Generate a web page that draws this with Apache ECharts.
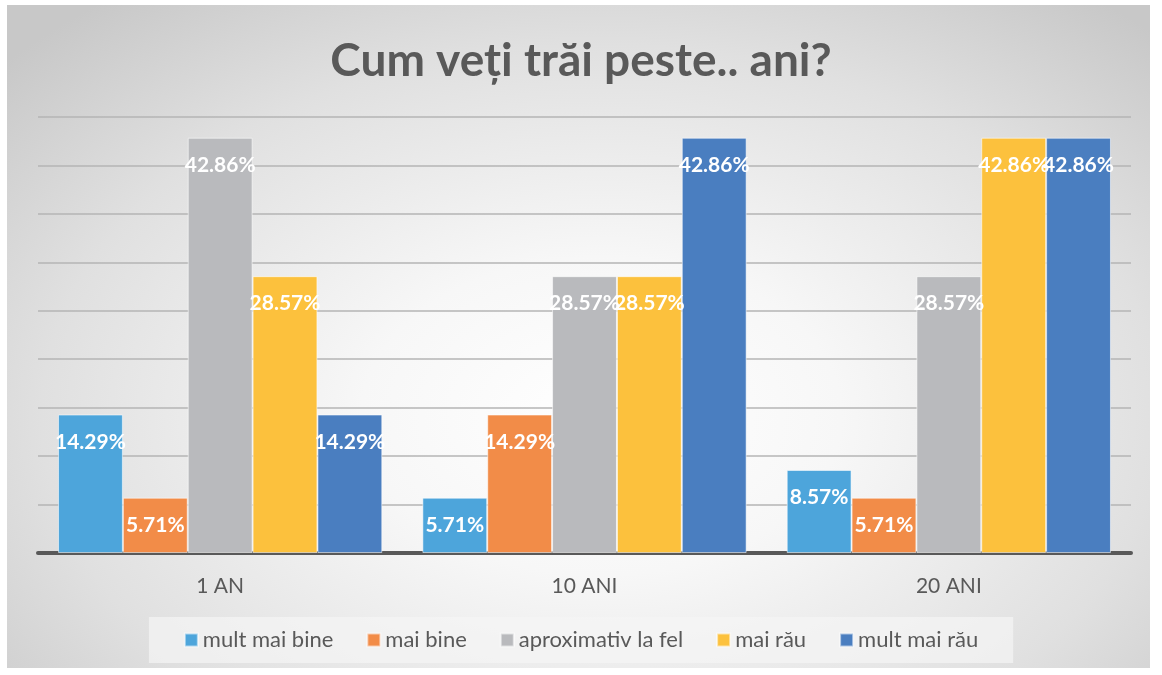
<!DOCTYPE html>
<html>
<head>
<meta charset="utf-8">
<script src="https://cdn.jsdelivr.net/npm/echarts@6/dist/echarts.min.js"></script>
<style>
  html, body { margin: 0; padding: 0; background: #fff; }
  #frame {
    position: absolute; left: 7px; top: 5px; width: 1143px; height: 663px;
    background: radial-gradient(ellipse 70% 80% at 52% 62%, #ffffff 0%, #f7f7f7 30%, #e0e0e0 70%, #c8c8c8 100%);
  }
  #main { position: absolute; left: 0; top: 0; width: 1162px; height: 675px; }
</style>
</head>
<body>
<div id="frame"></div>
<div id="main"></div>
<script>
// categories and series values (%)
var categories = ['1 AN', '10 ANI', '20 ANI']
var multMaiBine = [14.29, 5.71, 8.57]
var maiBine = [5.71, 14.29, 5.71]
var aproximativ = [42.86, 28.57, 28.57]
var maiRau = [28.57, 28.57, 42.86]
var multMaiRau = [14.29, 42.86, 42.86]

var font = 'Lato, "Open Sans", sans-serif'

function bar(name, data, color) {
  return {
    name: name,
    type: 'bar',
    data: data,
    barGap: '0%',
    barCategoryGap: '11%',
    itemStyle: {
      color: color,
      borderColor: 'rgba(255,255,255,0.55)',
      borderWidth: 1
    },
    label: {
      show: true,
      position: 'insideTop',
      distance: 17,
      color: '#fff',
      fontFamily: font,
      fontWeight: 'bold',
      fontSize: 21,
      formatter: function (p) { return p.value.toFixed(2) + '%' }
    }
  }
}

var chart = echarts.init(document.getElementById('main'))
chart.setOption({
  backgroundColor: 'transparent',
  animation: false,
  title: {
    text: 'Cum veți trăi peste.. ani?',
    left: 'center',
    top: 33,
    textStyle: { fontFamily: font, fontWeight: 'bold', fontSize: 46, color: '#595959' }
  },
  grid: { left: 38, right: 31, top: 117, bottom: 122 },
  legend: {
    bottom: 12,
    left: 'center',
    icon: 'rect',
    itemWidth: 13,
    itemHeight: 13,
    itemGap: 33,
    padding: [12, 35],
    backgroundColor: 'rgba(245,245,245,0.7)',
    textStyle: { fontFamily: font, fontSize: 22, color: '#595959' },
    data: ['mult mai bine', 'mai bine', 'aproximativ la fel', 'mai rău', 'mult mai rău']
  },
  xAxis: {
    type: 'category',
    data: categories,
    axisLine: { lineStyle: { color: '#595959', width: 4 } },
    axisTick: { show: false },
    axisLabel: { margin: 23, fontFamily: font, fontSize: 21, color: '#595959' }
  },
  yAxis: {
    type: 'value',
    min: 0,
    max: 45,
    interval: 5,
    axisLabel: { show: false },
    axisLine: { show: false },
    axisTick: { show: false },
    splitLine: { lineStyle: { color: '#b4b4b4', width: 1.5 } }
  },
  series: [
    bar('mult mai bine', multMaiBine, '#4DA5DB'),
    bar('mai bine', maiBine, '#F28C48'),
    bar('aproximativ la fel', aproximativ, '#B9BABD'),
    bar('mai rău', maiRau, '#FCC13D'),
    bar('mult mai rău', multMaiRau, '#4A7EC0')
  ]
})
</script>
</body>
</html>
